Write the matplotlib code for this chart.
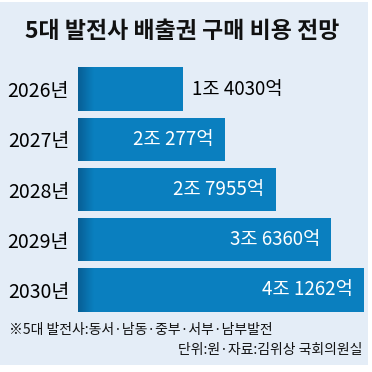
import matplotlib
matplotlib.use("Agg")
import matplotlib.pyplot as plt
import numpy as np
from matplotlib.patches import Rectangle
from matplotlib.colors import LinearSegmentedColormap

plt.rcParams['font.family'] = ['Noto Sans CJK KR', 'DejaVu Sans']

years = ["2026년", "2027년", "2028년", "2029년", "2030년"]
values = [14030, 20277, 27955, 36360, 41262]  # 억원
value_labels = ["1조 4030억", "2조 277억", "2조 7955억", "3조 6360억", "4조 1262억"]
title = "5대 발전사 배출권 구매 비용 전망"
note1 = "※5대 발전사:동서·남동·중부·서부·남부발전"
note2 = "단위:원·자료:김위상 국회의원실"

BG = "#e4edf7"
BAR = "#0a7fbf"
BAR_DARK = "#075f95"

W = H = 372
fig = plt.figure(figsize=(3.72, 3.72), dpi=100)
fig.patch.set_facecolor("white")
fig.add_artist(Rectangle((0, 1 - 365 / H), 368 / W, 363 / H, transform=fig.transFigure,
                         facecolor=BG, edgecolor="none", zorder=0))

ax = fig.add_axes([78 / W, 1 - 315.1 / H, 290 / W, 251.2 / H])
ax.set_facecolor("none")
for s in ax.spines.values():
    s.set_visible(False)

XMIN = -1760
XMAX = XMIN + 290 * 150.4
ypos = np.arange(len(years))
bars = ax.barh(ypos, [v - XMIN for v in values], left=XMIN, height=0.86,
               color=BAR, edgecolor="none", zorder=2)

cmap = LinearSegmentedColormap.from_list("g", [BAR_DARK, BAR])
grad = np.linspace(0, 1, 64).reshape(1, -1)
gw = 16 * 150.4
for b in bars:
    y0 = b.get_y()
    im = ax.imshow(grad, extent=[XMIN, XMIN + gw, y0 + b.get_height(), y0],
                   aspect="auto", cmap=cmap, zorder=3, interpolation="bilinear")
    im.set_clip_path(b)

ax.set_xlim(XMIN, XMAX)
ax.set_ylim(len(years) - 0.5, -0.5)
ax.set_xticks([])
ax.set_yticks(ypos)
ax.set_yticklabels(years, fontsize=14)
ax.tick_params(axis="y", length=0, pad=6.5)

px = 150.4
for i, (v, lab) in enumerate(zip(values, value_labels)):
    if i == 0:
        ax.text(v + 9 * px, i, lab, ha="left", va="center", fontsize=13.5,
                color="black", zorder=5)
    else:
        ax.text(v - 11.5 * px, i, lab, ha="right", va="center", fontsize=13.5,
                color="white", zorder=5)

fig.text(182 / W, 1 - 32 / H, title, ha="center", va="center", fontsize=16.5,
         fontweight="bold", color="#111111")
fig.text(9 / W, 1 - 330 / H, note1, ha="left", va="center", fontsize=10, color="#111111")
fig.text(362 / W, 1 - 350 / H, note2, ha="right", va="center", fontsize=10, color="#111111")

fig.savefig("out.png", dpi=100, facecolor=fig.get_facecolor())
